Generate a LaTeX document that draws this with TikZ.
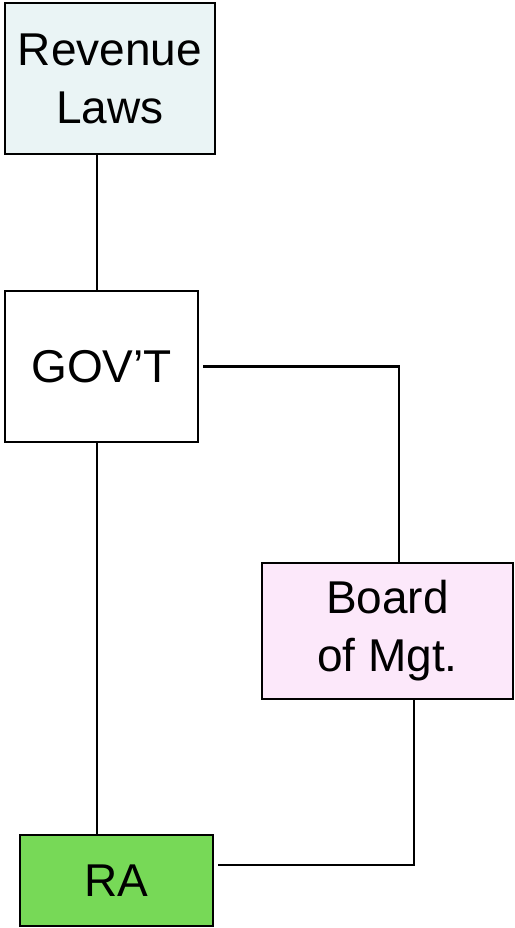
\documentclass[tikz,border=0pt]{standalone}
\usepackage{fontspec}
\setmainfont{Liberation Sans}
\usepackage{tikz,xcolor}
\usetikzlibrary{calc}
\definecolor{lawblue}{HTML}{EAF4F5}
\definecolor{boardpink}{HTML}{FCE8FA}
\definecolor{ragreen}{HTML}{77D957}
\tikzset{box/.style={draw=black,line width=2.5pt,inner sep=0pt,align=center,
  font=\fontsize{46}{58}\selectfont},
  link/.style={black,line width=2.5pt}}
\begin{document}
\begin{tikzpicture}[x=1pt,y=1pt]
\useasboundingbox (0,0) rectangle (514,928);

\node[box,fill=lawblue,minimum width=210pt,minimum height=151pt] (laws) at (110,849.5) {Revenue\\Laws};
\node[box,fill=white,minimum width=193pt,minimum height=151pt] (govt) at (101.5,561.5) {GOV'T};
\node[box,fill=boardpink,minimum width=251pt,minimum height=136pt] (board) at (387.5,297) {Board\\of Mgt.};
\node[box,fill=ragreen,minimum width=193pt,minimum height=91pt] (ra) at (116.5,47.5) {RA};

\draw[link] ([xshift=-13pt]laws.south) -- ([xshift=-13pt]laws.south |- govt.north);
\draw[link] ([xshift=4pt]govt.east) -| ([xshift=11.5pt]board.north);
\draw[link] ([xshift=-4.5pt]govt.south) -- ([xshift=-4.5pt]govt.south |- ra.north);
\draw[link] ([xshift=26.5pt]board.south) |- ([xshift=4pt,yshift=15.5pt]ra.east);

\end{tikzpicture}
\end{document}
